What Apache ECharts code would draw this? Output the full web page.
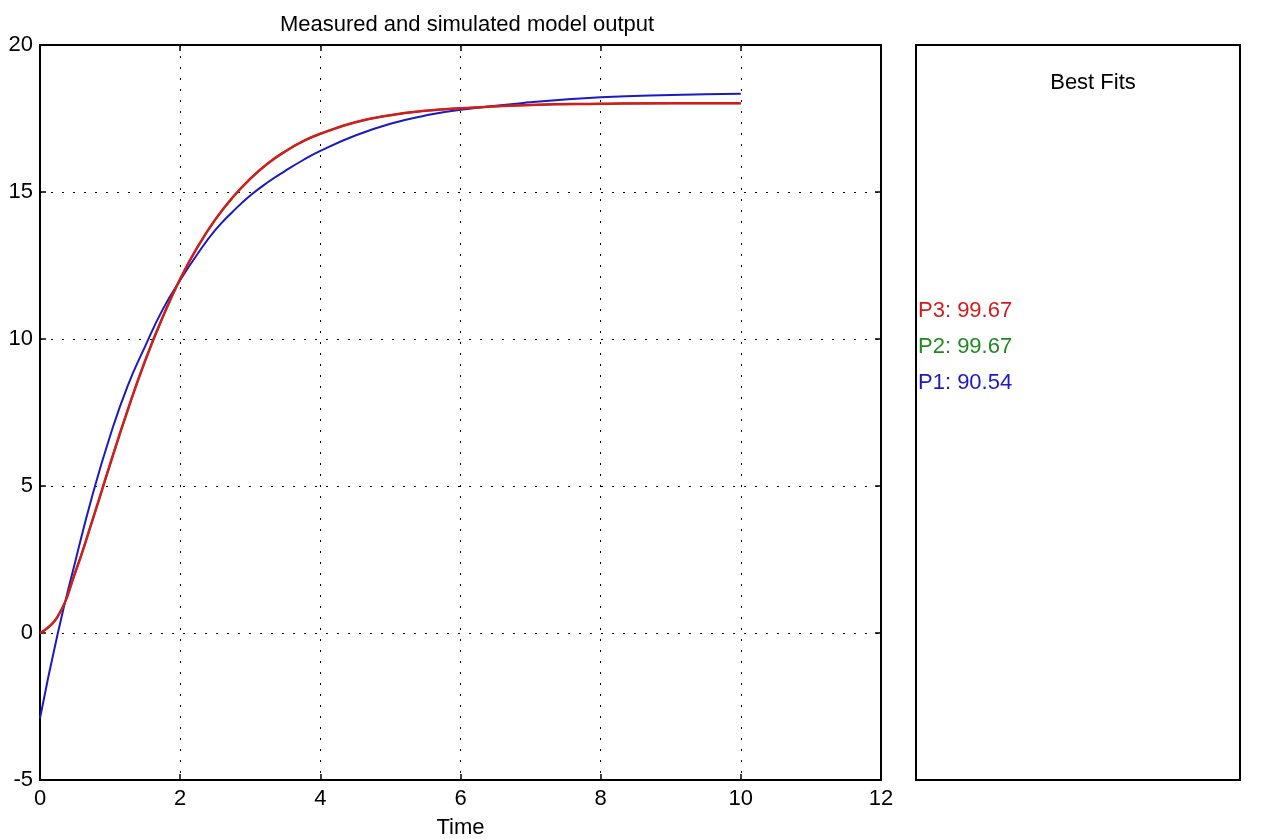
<!DOCTYPE html>
<html>
<head>
<meta charset="utf-8">
<title>Measured and simulated model output</title>
<script src="https://cdn.jsdelivr.net/npm/echarts@6/dist/echarts.min.js"></script>
<style>
  html, body { margin: 0; padding: 0; background: #fff; }
  #chart { width: 1270px; height: 839px; }
</style>
</head>
<body>
<div id="chart"></div>
<script>
// sample times
var timeVals = [0, 0.25, 0.5, 0.75, 1, 1.25, 1.5, 1.75, 2, 2.25, 2.5, 2.75, 3, 3.25, 3.5, 3.75, 4, 4.5, 5, 5.5, 6, 7, 8, 9, 10];
// P1 (blue) model output
var p1Vals = [-2.9, -0.05, 2.4, 4.7, 6.7, 8.4, 9.75, 11.0, 12.0, 12.9, 13.7, 14.33, 14.88, 15.33, 15.72, 16.08, 16.4, 16.92, 17.32, 17.6, 17.8, 18.05, 18.22, 18.3, 18.34];
// P2 (green) sits right under P3
var p2Vals = [0, 0.55, 2.04, 3.85, 5.74, 7.57, 9.26, 10.74, 12.04, 13.14, 14.06, 14.82, 15.45, 15.97, 16.38, 16.72, 16.98, 17.37, 17.61, 17.76, 17.85, 17.96, 18.0, 18.02, 18.02];
// P3 (red) model output
var p3Vals = [0, 0.55, 2.04, 3.85, 5.74, 7.57, 9.26, 10.74, 12.04, 13.14, 14.06, 14.82, 15.45, 15.97, 16.38, 16.72, 16.98, 17.37, 17.61, 17.76, 17.85, 17.96, 18.0, 18.02, 18.02];

var fitNames = ['P3', 'P2', 'P1'];
var fitScores = [99.67, 99.67, 90.54];
var fitColors = ['#d41c1c', '#1f8a1f', '#1a1ac4'];

var xTicks = [0, 12, 2];   // min, max, step
var yTicks = [-5, 20, 5];

function pairs(vals) {
  return timeVals.map(function (t, i) { return [t, vals[i]]; });
}

var myChart = echarts.init(document.getElementById('chart'));

var font = 'Liberation Sans, Arial, sans-serif';
var gridLine = { show: true, lineStyle: { color: '#000', type: [2, 9], width: 1 } };

function axisCommon(showLabel, margin) {
  return {
    axisLine: { show: true, onZero: false, lineStyle: { color: '#000', width: 2 } },
    axisTick: { show: true, inside: true, length: 6, lineStyle: { color: '#000', width: 1.5 } },
    axisLabel: { show: showLabel, color: '#000', fontSize: 22, fontFamily: font, margin: margin || 8 }
  };
}

// right hand "Best Fits" panel
var graphics = [
  {
    type: 'rect',
    shape: { x: 916, y: 45, width: 324, height: 735 },
    style: { fill: '#fff', stroke: '#000', lineWidth: 2 }
  },
  {
    type: 'text',
    x: 1093, y: 83,
    style: { text: 'Best Fits', fill: '#000', font: '22px ' + font, align: 'center', verticalAlign: 'middle' }
  }
];
fitNames.forEach(function (n, i) {
  graphics.push({
    type: 'text',
    x: 918, y: 311 + i * 36,
    style: { text: n + ': ' + fitScores[i].toFixed(2), fill: fitColors[i], font: '22px ' + font, verticalAlign: 'middle' }
  });
});

var option = {
  backgroundColor: '#fff',
  animation: false,
  title: {
    text: 'Measured and simulated model output',
    left: 462, top: 9, textAlign: 'center',
    textStyle: { fontSize: 22, fontWeight: 'normal', color: '#000', fontFamily: font }
  },
  grid: { left: 40, top: 45, width: 841, height: 735, outerBoundsMode: 'none', containLabel: false },
  xAxis: [
    Object.assign({
      type: 'value', position: 'bottom',
      min: xTicks[0], max: xTicks[1], interval: xTicks[2],
      name: 'Time', nameLocation: 'middle', nameGap: 37,
      nameTextStyle: { fontSize: 22, color: '#000', fontFamily: font },
      splitLine: gridLine
    }, axisCommon(true, 8)),
    Object.assign({
      type: 'value', position: 'top',
      min: xTicks[0], max: xTicks[1], interval: xTicks[2],
      splitLine: { show: false }
    }, axisCommon(false))
  ],
  yAxis: [
    Object.assign({
      type: 'value', position: 'left',
      min: yTicks[0], max: yTicks[1], interval: yTicks[2],
      splitLine: gridLine
    }, axisCommon(true, 7)),
    Object.assign({
      type: 'value', position: 'right',
      min: yTicks[0], max: yTicks[1], interval: yTicks[2],
      splitLine: { show: false }
    }, axisCommon(false))
  ],
  series: [
    {
      name: 'P1', type: 'line', data: pairs(p1Vals), smooth: true,
      showSymbol: false, lineStyle: { color: fitColors[2], width: 2 }, z: 3
    },
    {
      name: 'P2', type: 'line', data: pairs(p2Vals), smooth: true,
      showSymbol: false, lineStyle: { color: fitColors[1], width: 2 }, z: 4
    },
    {
      name: 'P3', type: 'line', data: pairs(p3Vals), smooth: true,
      showSymbol: false, lineStyle: { color: fitColors[0], width: 2.5 }, z: 5
    }
  ],
  graphic: graphics
};

myChart.setOption(option);
</script>
</body>
</html>
